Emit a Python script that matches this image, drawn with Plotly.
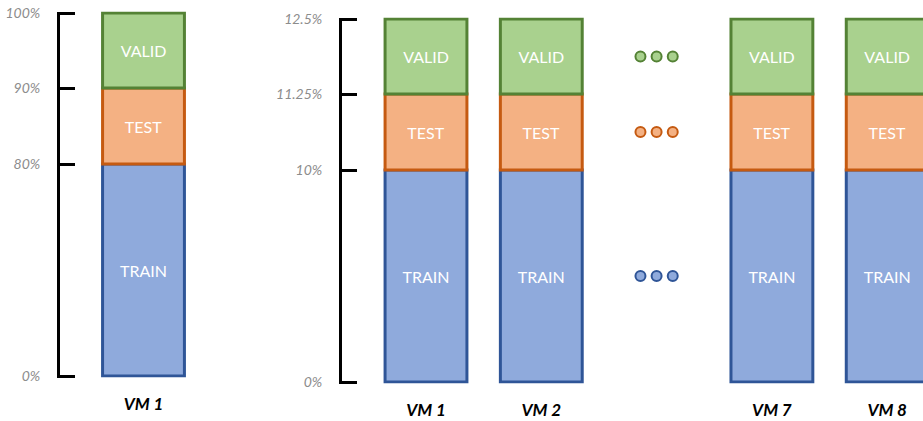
import numpy as np
import plotly.graph_objects as go

# ---- data -------------------------------------------------------------
SPLITS = ["TRAIN", "TEST", "VALID"]

# single-VM split (percent of the whole dataset)
single_vm = ["VM 1"]
single_share = [80, 10, 10]
single_ticks = [0, 80, 90, 100]
single_ticktext = ["0%", "80%", "90%", "100%"]

# eight VMs, each holding an eighth of the dataset (percent of the whole)
multi_vms = ["VM 1", "VM 2", "VM 7", "VM 8"]
multi_share = {
    "TRAIN": [10, 10, 10, 10],
    "TEST": [1.25, 1.25, 1.25, 1.25],
    "VALID": [1.25, 1.25, 1.25, 1.25],
}
multi_ticks = [0, 10, 11.25, 12.5]
multi_ticktext = ["0%", "10%", "11.25%", "12.5%"]

# ---- styling ----------------------------------------------------------
FILL = {"TRAIN": "#8FAADC", "TEST": "#F4B183", "VALID": "#A9D18E"}
EDGE = {"TRAIN": "#2F5597", "TEST": "#C55A11", "VALID": "#548235"}
# schematic (non-proportional) axis: each tick interval gets a fixed height
STOPS = [0, 212, 288, 363]
PAD = 1.5
BAR_W = 0.71
FONT = "Lato, 'Open Sans', sans-serif"
W, H = 923, 421


def to_axis(v, ticks):
    return float(np.interp(v, ticks, STOPS))


fig = go.Figure()

# left panel: one VM
cum = 0.0
for name, share in zip(SPLITS, single_share):
    b0, b1 = to_axis(cum, single_ticks), to_axis(cum + share, single_ticks)
    fig.add_trace(go.Bar(
        x=[0], y=[b1 - b0], base=[b0], width=BAR_W,
        marker=dict(color=FILL[name], line=dict(color=EDGE[name], width=3)),
        text=[name], textposition="inside", insidetextanchor="middle",
        textangle=0, textfont=dict(color="white", size=16, family=FONT),
        xaxis="x", yaxis="y", showlegend=False, hoverinfo="skip",
    ))
    cum += share

# right panel: several VMs with a gap (ellipsis) between VM 2 and VM 7
slots = [0, 1, 3, 4]
gap_slot = 2
cum = np.zeros(len(multi_vms))
for name in SPLITS:
    vals = np.array(multi_share[name], dtype=float)
    b0 = np.array([to_axis(c, multi_ticks) for c in cum])
    b1 = np.array([to_axis(c, multi_ticks) for c in cum + vals])
    fig.add_trace(go.Bar(
        x=slots, y=b1 - b0, base=b0, width=BAR_W,
        marker=dict(color=FILL[name], line=dict(color=EDGE[name], width=3)),
        text=[name] * len(multi_vms), textposition="inside",
        insidetextanchor="middle", textangle=0,
        textfont=dict(color="white", size=16, family=FONT),
        xaxis="x2", yaxis="y2", showlegend=False, hoverinfo="skip",
    ))
    # ellipsis dots centred on each split band
    mid = to_axis(cum[0] + vals[0] / 2, multi_ticks)
    fig.add_trace(go.Scatter(
        x=[gap_slot - 0.14, gap_slot, gap_slot + 0.14], y=[mid] * 3,
        mode="markers",
        marker=dict(size=10, color=FILL[name], line=dict(color=EDGE[name], width=2)),
        xaxis="x2", yaxis="y2", showlegend=False, hoverinfo="skip",
    ))
    cum = cum + vals

SLOT_PX = 115.3


def x_domain(axis_px, first_center_px, right_px):
    dom = [axis_px / W, right_px / W]
    rng = [-(first_center_px - axis_px) / SLOT_PX, (right_px - first_center_px) / SLOT_PX]
    return dom, rng


def y_domain(bottom_px, top_px):
    # pad the range a little so the end ticks are drawn
    unit = (bottom_px - top_px) / STOPS[-1]
    return [1 - (bottom_px + PAD * unit) / H, 1 - (top_px - PAD * unit) / H]


dom1, rng1 = x_domain(60, 143.5, 230)
dom2, rng2 = x_domain(342, 426, 923)

yaxis_common = dict(
    range=[-PAD, STOPS[-1] + PAD], tickvals=STOPS, showgrid=False, zeroline=False,
    showline=True, linecolor="black", linewidth=3,
    ticks="inside", ticklen=15, tickwidth=3, tickcolor="black",
    ticklabelstandoff=14, automargin=False,
    tickfont=dict(family=FONT, size=14, color="#8C8C8C", style="italic"),
    fixedrange=True,
)
xaxis_common = dict(
    showgrid=False, zeroline=False, showline=False, ticks="",
    ticklabelstandoff=14, automargin=False,
    tickfont=dict(family=FONT, size=17, color="black", weight="bold", style="italic"),
    fixedrange=True,
)

fig.update_layout(
    width=W, height=H, margin=dict(l=0, r=0, t=0, b=0, autoexpand=False),
    paper_bgcolor="white", plot_bgcolor="white", barmode="overlay",
    xaxis=dict(domain=dom1, range=rng1, anchor="y",
               tickvals=[0], ticktext=single_vm, **xaxis_common),
    yaxis=dict(domain=y_domain(376, 13), anchor="x",
               ticktext=single_ticktext, **yaxis_common),
    xaxis2=dict(domain=dom2, range=rng2, anchor="y2",
                tickvals=slots, ticktext=multi_vms, **xaxis_common),
    yaxis2=dict(domain=y_domain(382, 19), anchor="x2",
                ticktext=multi_ticktext, **yaxis_common),
)

fig.write_html("out.html", config={"displayModeBar": False})
